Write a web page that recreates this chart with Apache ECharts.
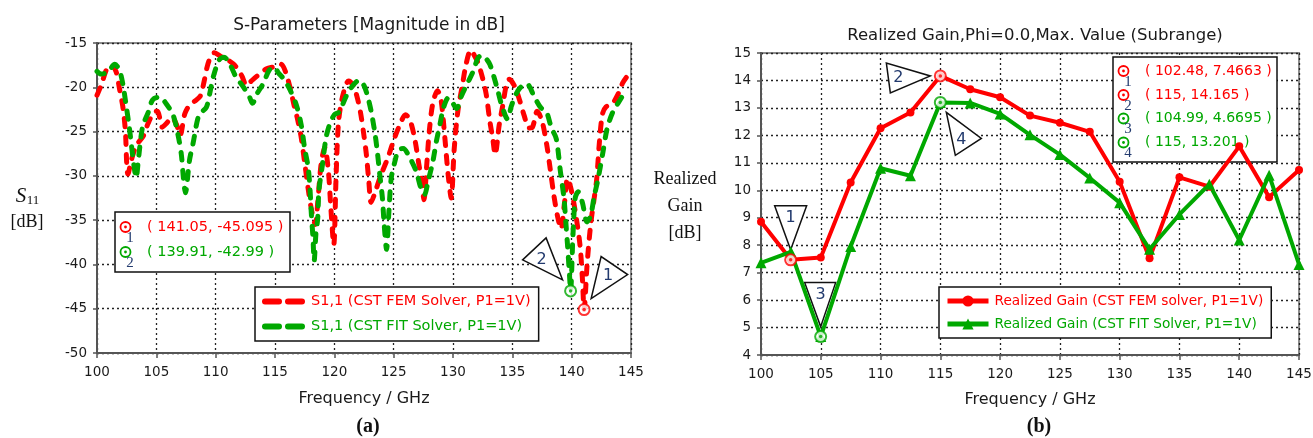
<!DOCTYPE html>
<html>
<head>
<meta charset="utf-8">
<title>S-Parameters / Realized Gain</title>
<script src="https://cdn.jsdelivr.net/npm/echarts@6/dist/echarts.min.js"></script>
<style>
  html, body { margin: 0; padding: 0; background: #fff; }
  #main { width: 1313px; height: 438px; }
</style>
</head>
<body>
<div id="main"></div>
<script>
// ---- (a) S11, frequency in GHz, magnitude in dB ----
var femFreq = [
  100.0, 100.4, 100.8, 101.2, 101.6, 101.9, 102.2, 102.4, 102.5, 102.6,
  102.9, 103.3, 103.9, 104.3, 104.8, 105.1, 105.5, 105.9, 106.3, 106.7,
  107.0, 107.4, 107.8, 108.2, 108.7, 109.0, 109.3, 109.6, 109.9, 110.4,
  111.0, 111.6, 112.2, 112.6, 113.0, 113.6, 114.3, 114.9, 115.5, 115.9,
  116.3, 116.6, 116.9, 117.2, 117.5, 117.8, 118.1, 118.4, 118.6, 118.9,
  119.2, 119.5, 119.7, 119.95, 120.15, 120.35, 120.7, 121.2, 121.6, 121.9,
  122.2, 122.5, 122.7, 122.9, 123.1, 123.4, 123.9, 124.5, 125.0, 125.5,
  126.0, 126.4, 126.8, 127.1, 127.4, 127.55, 127.8, 128.0, 128.3, 128.7,
  129.0, 129.3, 129.6, 129.85, 130.1, 130.4, 130.8, 131.1, 131.5, 131.8,
  132.1, 132.5, 132.8, 133.1, 133.35, 133.55, 133.9, 134.2, 134.5, 134.75,
  135.2, 135.6, 136.0, 136.4, 136.7, 137.1, 137.5, 137.9, 138.2, 138.5,
  138.8, 139.1, 139.4, 139.65, 139.95, 140.3, 140.7, 140.9, 141.05, 141.3,
  141.6, 141.9, 142.1, 142.35, 142.6, 142.9, 143.4, 143.9, 144.3, 144.65
];
var femS11 = [
  -20.9, -19.6, -18.0, -17.5, -18.2, -20.2, -22.4, -25.1, -28.5, -29.8,
  -28.2, -26.6, -25.5, -24.1, -22.8, -22.7, -24.5, -24.0, -23.4, -24.2,
  -25.4, -23.0, -22.0, -21.6, -21.0, -19.5, -17.6, -16.5, -16.1, -16.5,
  -16.9, -17.5, -18.7, -19.8, -19.3, -18.6, -17.9, -17.7, -17.4, -18.3,
  -20.2, -22.0, -23.6, -25.6, -28.5, -31.5, -34.0, -35.5, -33.0, -28.5,
  -26.8, -29.5, -33.5, -37.8, -30.0, -24.0, -21.0, -19.3, -19.8, -21.0,
  -22.8, -25.5, -27.6, -30.5, -33.0, -32.0, -30.0, -28.0, -26.0, -24.3,
  -23.1, -23.8, -26.0, -28.5, -31.0, -32.7, -28.5, -25.0, -21.8, -20.4,
  -21.5, -25.5, -30.0, -32.5, -27.0, -22.8, -19.7, -17.4, -15.8, -16.4,
  -17.2, -19.0, -20.8, -23.8, -25.8, -27.6, -24.2, -22.0, -19.7, -19.1,
  -19.9, -21.4, -23.2, -24.6, -24.5, -22.7, -23.8, -26.5, -29.3, -32.2,
  -34.5, -36.0, -33.0, -30.3, -31.5, -34.0, -37.8, -41.5, -45.095, -40.0,
  -35.5, -32.5, -30.5, -26.0, -23.0, -22.2, -21.9, -20.8, -19.5, -18.8
];
var fitFreq = [
  100.0, 100.35, 100.9, 101.5, 101.9, 102.2, 102.45, 102.7, 102.9, 103.1,
  103.3, 103.5, 103.85, 104.3, 104.7, 105.3, 105.8, 106.4, 106.8, 107.1,
  107.3, 107.45, 107.8, 108.1, 108.6, 109.2, 109.5, 109.8, 110.3, 110.7,
  111.2, 111.7, 112.3, 112.85, 113.1, 113.5, 114.0, 114.5, 114.9, 115.3,
  115.7, 116.2, 116.8, 117.2, 117.5, 117.8, 117.95, 118.05, 118.2, 118.3,
  118.45, 118.6, 118.7, 119.0, 119.3, 119.6, 120.0, 120.4, 121.0, 121.5,
  122.1, 122.5, 122.8, 123.1, 123.4, 123.6, 123.8, 124.05, 124.2, 124.4,
  124.6, 124.8, 125.1, 125.4, 125.8, 126.3, 126.9, 127.3, 127.6, 127.9,
  128.3, 128.6, 128.9, 129.2, 129.6, 129.9, 130.3, 130.7, 131.2, 131.7,
  132.1, 132.4, 132.8, 133.1, 133.4, 133.8, 134.1, 134.6, 134.9, 135.3,
  135.7, 136.2, 136.9, 137.4, 137.85, 138.3, 138.7, 139.05, 139.35, 139.5,
  139.65, 139.8, 139.91, 140.1, 140.3, 140.55, 140.9, 141.3, 141.6, 141.9,
  142.2, 142.6, 143.0, 143.5, 144.0, 144.6
];
var fitS11 = [
  -18.2, -18.5, -18.3, -17.4, -18.1, -19.8, -22.0, -24.3, -26.5, -28.7,
  -30.2, -28.0, -24.4, -22.9, -21.4, -21.1, -21.8, -23.1, -25.2, -27.5,
  -30.5, -31.9, -28.2, -26.3, -23.1, -22.3, -20.7, -18.8, -16.9, -16.6,
  -17.4, -18.8, -19.9, -21.1, -21.8, -20.7, -19.6, -18.1, -17.7, -18.4,
  -19.0, -20.1, -22.0, -24.2, -26.9, -29.1, -31.5, -34.0, -37.0, -39.6,
  -36.5, -34.8, -31.7, -28.7, -25.7, -24.2, -23.1, -22.8, -21.0, -19.9,
  -19.2, -19.8, -21.0, -22.7, -25.0, -27.0, -29.5, -32.5, -35.5, -38.3,
  -34.0, -30.2, -28.4, -27.1, -26.9, -27.8, -29.5, -31.4, -32.1, -30.6,
  -28.4, -26.1, -24.2, -22.3, -21.2, -21.6, -22.4, -21.0, -19.6, -18.2,
  -16.7, -16.4, -16.8, -17.4, -18.6, -20.5, -22.0, -23.6, -22.2, -20.8,
  -20.0, -19.6, -21.2, -22.3, -22.7, -24.6, -25.8, -29.5, -32.5, -35.1,
  -37.8, -40.8, -42.99, -37.0, -32.5, -31.8, -33.0, -35.2, -34.5, -32.3,
  -30.5, -27.6, -24.6, -22.7, -21.6, -20.3
];

// ---- (b) realized gain, every 2.5 GHz ----
var gainFreq = [100, 102.5, 105, 107.5, 110, 112.5, 115, 117.5, 120, 122.5,
  125, 127.5, 130, 132.5, 135, 137.5, 140, 142.5, 145];
var gainFem = [8.85, 7.47, 7.55, 10.28, 12.26, 12.83, 14.165, 13.68, 13.39, 12.72,
  12.46, 12.13, 10.31, 7.52, 10.47, 10.13, 11.6, 9.75, 10.74];
var gainFit = [7.36, 7.76, 4.67, 7.95, 10.8, 10.53, 13.2, 13.18, 12.78, 12.02,
  11.3, 10.45, 9.55, 7.85, 9.12, 10.22, 8.19, 10.55, 7.3];

// ---- marker readouts (frequency, value) ----
var sMarkers = [[141.05, -45.095], [139.91, -42.99]];
var gMarkers = [[102.48, 7.4663], [115, 14.165], [104.99, 4.6695], [115, 13.201]];

var RED = '#ff0000';
var GREEN = '#00a800';
var NAVY = '#223a6e';
var SANS = 'DejaVu Sans';
var SERIF = 'Liberation Serif';

var FEM_S = 'S1,1 (CST FEM Solver, P1=1V)';
var FIT_S = 'S1,1 (CST FIT Solver, P1=1V)';
var FEM_G = 'Realized Gain (CST FEM solver, P1=1V)';
var FIT_G = 'Realized Gain (CST FIT Solver, P1=1V)';

// two thick dashes, used as legend icon for the dashed S11 traces
var DASH_ICON = 'path://M3,0h14a3,3 0 0 1 0,6h-14a3,3 0 0 1 0,-6z M26,0h14a3,3 0 0 1 0,6h-14a3,3 0 0 1 0,-6z';

function zip(xs, ys) {
  var out = [];
  for (var i = 0; i < xs.length; i++) {
    out.push([xs[i], ys[i]]);
  }
  return out;
}

function freqAxis(gridIndex, gap) {
  return {
    type: 'value', gridIndex: gridIndex, min: 100, max: 145, interval: 5,
    name: 'Frequency / GHz', nameLocation: 'middle', nameGap: gap,
    nameTextStyle: { fontFamily: SANS, fontSize: 16, color: '#1a1a1a' },
    axisLine: { show: true, onZero: false, lineStyle: { color: '#555', width: 2 } },
    axisTick: { show: true, inside: false, length: 5, lineStyle: { color: '#555', width: 1.5 } },
    axisLabel: { margin: 12, fontFamily: SANS, fontSize: 13.5, color: '#1a1a1a' },
    splitLine: { show: true, lineStyle: { color: '#222', width: 1.3, type: [2, 3] } }
  };
}

function valueAxis(gridIndex, min, max, step) {
  return {
    type: 'value', gridIndex: gridIndex, min: min, max: max, interval: step,
    axisLine: { show: true, onZero: false, lineStyle: { color: '#555', width: 2 } },
    axisTick: { show: true, inside: false, length: 4, lineStyle: { color: '#555', width: 1.5 } },
    axisLabel: { margin: 10, fontFamily: SANS, fontSize: 13.5, color: '#1a1a1a' },
    splitLine: { show: true, lineStyle: { color: '#222', width: 1.3, type: [2, 3] } }
  };
}

// white ring with a dot, like the CST marker symbol
function ringSeries(axis, pts, color) {
  return [{
    type: 'scatter', xAxisIndex: axis, yAxisIndex: axis, data: pts, silent: true,
    symbol: 'circle', symbolSize: 11, z: 6,
    itemStyle: { color: '#fff', borderColor: color, borderWidth: 2 }
  }, {
    type: 'scatter', xAxisIndex: axis, yAxisIndex: axis, data: pts, silent: true,
    symbol: 'circle', symbolSize: 3.5, z: 7,
    itemStyle: { color: color }
  }];
}

function legendBox(left, top, items, opt) {
  return {
    orient: 'vertical', left: left, top: top, selectedMode: false, z: 10,
    data: items,
    backgroundColor: '#fff', borderColor: '#111', borderWidth: 1.5, borderRadius: 0,
    padding: opt.padding, itemGap: opt.gap, itemWidth: opt.iconW, itemHeight: opt.iconH,
    lineStyle: { width: 5 },
    textStyle: { fontFamily: SANS, fontSize: opt.font, padding: [0, 0, 0, 1] }
  };
}

var chart = echarts.init(document.getElementById('main'), null, { renderer: 'canvas' });

var series = [
  {
    name: FEM_S, type: 'line', xAxisIndex: 0, yAxisIndex: 0, data: zip(femFreq, femS11),
    symbol: 'none', smooth: 0.3, z: 3,
    lineStyle: { color: RED, width: 5, type: [8, 10], cap: 'round', join: 'round' },
    itemStyle: { color: RED }
  },
  {
    name: FIT_S, type: 'line', xAxisIndex: 0, yAxisIndex: 0, data: zip(fitFreq, fitS11),
    symbol: 'none', smooth: 0.3, z: 3,
    lineStyle: { color: GREEN, width: 5, type: [8, 10], cap: 'round', join: 'round' },
    itemStyle: { color: GREEN }
  },
  {
    name: FEM_G, type: 'line', xAxisIndex: 1, yAxisIndex: 1, data: zip(gainFreq, gainFem),
    symbol: 'circle', symbolSize: 8, z: 3,
    lineStyle: { color: RED, width: 4 }, itemStyle: { color: RED }
  },
  {
    name: FIT_G, type: 'line', xAxisIndex: 1, yAxisIndex: 1, data: zip(gainFreq, gainFit),
    symbol: 'triangle', symbolSize: 11, z: 3,
    lineStyle: { color: GREEN, width: 4 }, itemStyle: { color: GREEN }
  }
];
series = series
  .concat(ringSeries(0, [sMarkers[0]], RED))
  .concat(ringSeries(0, [sMarkers[1]], GREEN))
  .concat(ringSeries(1, gMarkers.slice(0, 2), RED))
  .concat(ringSeries(1, gMarkers.slice(2, 4), GREEN));

chart.setOption({
  animation: false,
  backgroundColor: '#fff',
  title: [
    {
      text: 'S-Parameters [Magnitude in dB]', left: 364, top: 12, textAlign: 'center',
      textStyle: { fontFamily: SANS, fontSize: 17, fontWeight: 'normal', color: '#1a1a1a' }
    },
    {
      text: 'Realized Gain,Phi=0.0,Max. Value (Subrange)', left: 1030, top: 22, textAlign: 'center',
      textStyle: { fontFamily: SANS, fontSize: 16.5, fontWeight: 'normal', color: '#1a1a1a' }
    }
  ],
  grid: [
    { left: 97, top: 43, width: 534, height: 310, show: true, borderColor: '#8c8c8c', borderWidth: 2, outerBoundsMode: 'none' },
    { left: 761, top: 53, width: 538, height: 302, show: true, borderColor: '#8c8c8c', borderWidth: 2, outerBoundsMode: 'none' }
  ],
  xAxis: [freqAxis(0, 38), freqAxis(1, 37)],
  yAxis: [valueAxis(0, -50, -15, 5), valueAxis(1, 4, 15, 1)],
  legend: [
    legendBox(255, 287, [
      { name: FEM_S, icon: DASH_ICON, textStyle: { color: RED } },
      { name: FIT_S, icon: DASH_ICON, textStyle: { color: GREEN } }
    ], { padding: [7, 8, 7, 7], gap: 10, iconW: 43, iconH: 6, font: 14.5 }),
    legendBox(939, 287, [
      { name: FEM_G, textStyle: { color: RED } },
      { name: FIT_G, textStyle: { color: GREEN } }
    ], { padding: [7, 8, 7, 6], gap: 9, iconW: 41, iconH: 14, font: 13.7 })
  ],
  series: series
});

// ---- annotations: readout boxes, pointer triangles, axis captions ----
function readoutBox(x, y, w, h, rows, fontSize) {
  var kids = [{
    type: 'rect', shape: { x: 0, y: 0, width: w, height: h },
    style: { fill: '#fff', stroke: '#111', lineWidth: 1.5 }
  }];
  rows.forEach(function (r) {
    kids.push({ type: 'circle', shape: { cx: 10.5, cy: r.cy, r: 5 }, style: { fill: '#fff', stroke: r.color, lineWidth: 1.8 } });
    kids.push({ type: 'circle', shape: { cx: 10.5, cy: r.cy, r: 1.4 }, style: { fill: r.color } });
    kids.push({ type: 'text', x: 15, y: r.cy + 11, style: { text: r.id, fill: NAVY, font: '15px ' + SERIF, align: 'center', verticalAlign: 'middle' } });
    kids.push({
      type: 'text', x: 32, y: r.cy,
      style: { text: '( ' + r.pt[0] + ', ' + r.pt[1] + ' )', fill: r.color, font: fontSize + 'px ' + SANS, align: 'left', verticalAlign: 'middle' }
    });
  });
  return { type: 'group', x: x, y: y, z: 100, children: kids };
}

// triangle corners and label spot, relative to the marked point (pixels)
function pointer(gridIndex, pt, corners, labelAt, label) {
  var p = chart.convertToPixel({ gridIndex: gridIndex }, pt);
  return {
    type: 'group', x: p[0], y: p[1], z: 100,
    children: [
      { type: 'polygon', shape: { points: corners }, style: { fill: '#fff', stroke: '#111', lineWidth: 1.5 } },
      { type: 'text', x: labelAt[0], y: labelAt[1], style: { text: label, fill: NAVY, font: '16px ' + SANS, align: 'center', verticalAlign: 'middle' } }
    ]
  };
}

var graphics = [
  // y-axis captions
  { type: 'text', x: 21, y: 196, style: { text: 'S', font: 'italic 21px ' + SERIF, fill: '#111', align: 'center', verticalAlign: 'middle' } },
  { type: 'text', x: 33, y: 201, style: { text: '11', font: '13px ' + SERIF, fill: '#111', align: 'center', verticalAlign: 'middle' } },
  { type: 'text', x: 27, y: 222, style: { text: '[dB]', font: '18px ' + SERIF, fill: '#111', align: 'center', verticalAlign: 'middle' } },
  { type: 'text', x: 685, y: 206, style: { text: 'Realized\nGain\n[dB]', font: '18px ' + SERIF, lineHeight: 27, fill: '#111', align: 'center', verticalAlign: 'middle' } },
  // panel captions
  { type: 'text', x: 368, y: 427, style: { text: '(a)', font: 'bold 20px ' + SERIF, fill: '#111', align: 'center', verticalAlign: 'middle' } },
  { type: 'text', x: 1039, y: 427, style: { text: '(b)', font: 'bold 20px ' + SERIF, fill: '#111', align: 'center', verticalAlign: 'middle' } },

  readoutBox(115, 212, 175, 60, [
    { id: '1', pt: sMarkers[0], color: RED, cy: 15 },
    { id: '2', pt: sMarkers[1], color: GREEN, cy: 40 }
  ], 14.5),
  readoutBox(1113, 57, 164, 105, [
    { id: '1', pt: gMarkers[0], color: RED, cy: 14 },
    { id: '2', pt: gMarkers[1], color: RED, cy: 38 },
    { id: '3', pt: gMarkers[2], color: GREEN, cy: 61.5 },
    { id: '4', pt: gMarkers[3], color: GREEN, cy: 85.5 }
  ], 14),

  pointer(0, sMarkers[0], [[7, -11], [17, -53], [43.5, -35]], [24, -34], '1'),
  pointer(0, sMarkers[1], [[-8, -11], [-48, -31], [-24.5, -53]], [-29, -31], '2'),
  pointer(1, gMarkers[0], [[-16, -54], [16, -54], [0, -10]], [0, -42], '1'),
  pointer(1, gMarkers[1], [[-54, -13], [-50, 17], [-10, 0]], [-42, 2], '2'),
  pointer(1, gMarkers[2], [[-16, -54], [15, -54], [0, -10]], [0, -42], '3'),
  pointer(1, gMarkers[3], [[6, 10], [15, 53], [41, 36]], [21, 37], '4')
];

chart.setOption({ graphic: graphics });
</script>
</body>
</html>
